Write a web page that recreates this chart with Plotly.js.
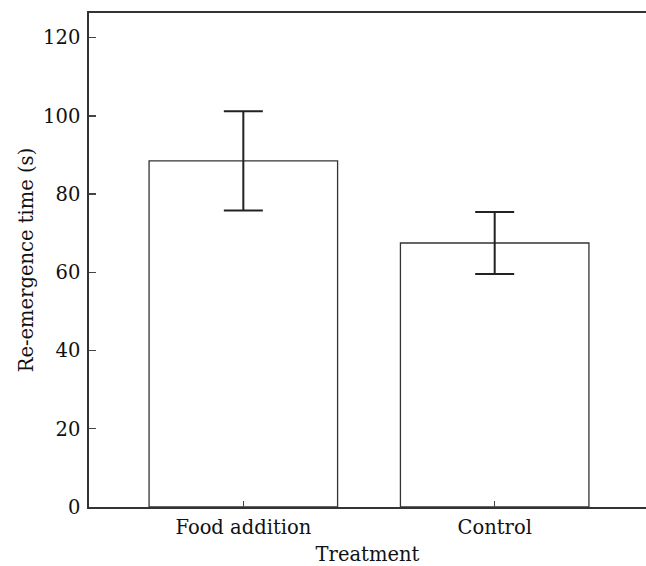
<!DOCTYPE html>
<html>
<head>
<meta charset="utf-8">
<script src="https://cdn.plot.ly/plotly-3.0.1.min.js"></script>
<style>html,body{margin:0;padding:0;background:#fff;}#chart{width:646px;height:566px;}</style>
</head>
<body>
<div id="chart"></div>
<script>
var categories = ["Food addition", "Control"];
var means = [88.5, 67.5];
var errors = [12.7, 7.9];
var yTicks = [0, 20, 40, 60, 80, 100, 120];

var trace = {
  type: "bar",
  x: [0, 1],
  y: means,
  width: 0.75,
  marker: {color: "#ffffff", line: {color: "#333333", width: 1.3}},
  error_y: {type: "data", array: errors, visible: true, color: "#222222", thickness: 2, width: 19.5},
  hoverinfo: "skip"
};

var fontFam = "DejaVu Serif, Liberation Serif, serif";
var layout = {
  width: 646, height: 566,
  margin: {l: 88.7, r: 0, t: 12.7, b: 59, pad: 0},
  paper_bgcolor: "#ffffff", plot_bgcolor: "#ffffff",
  showlegend: false,
  font: {family: fontFam, size: 19.5, color: "#111111"},
  xaxis: {
    range: [-0.614, 1.602],
    tickvals: [0, 1], ticktext: categories,
    ticks: "inside", ticklen: 6, tickwidth: 1.3, tickcolor: "#444",
    showline: true, linecolor: "#333333", linewidth: 1.8, mirror: true,
    showgrid: false, zeroline: false,
    ticklabelstandoff: 2,
    title: {text: "Treatment", font: {family: fontFam, size: 19.5, color: "#111"}, standoff: 13}
  },
  yaxis: {
    range: [0, 126.3],
    tickvals: yTicks, ticktext: yTicks.map(String),
    ticks: "inside", ticklen: 7, tickwidth: 1.3, tickcolor: "#444",
    showline: true, linecolor: "#333333", linewidth: 1.8, mirror: false,
    showgrid: false, zeroline: false,
    ticklabelstandoff: 3,
    title: {text: "Re-emergence time (s)", font: {family: fontFam, size: 19.5, color: "#111"}, standoff: 4}
  }
};

Plotly.newPlot("chart", [trace], layout, {displayModeBar: false, staticPlot: true});
</script>
</body>
</html>
